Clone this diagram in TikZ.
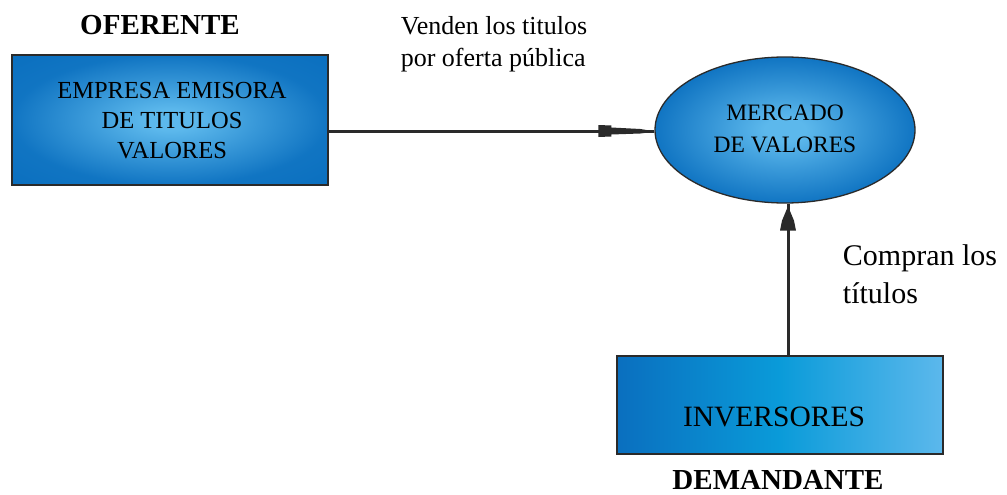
\documentclass[tikz,border=0pt]{standalone}
\usepackage{fontspec}
\setmainfont{Liberation Serif}
\usetikzlibrary{arrows.meta,calc,shapes.geometric}
\definecolor{bdark}{HTML}{0A6FBF}
\definecolor{bmid}{HTML}{0A9BD9}
\definecolor{blight}{HTML}{5CB8EC}
\definecolor{edge}{HTML}{2A2A2A}
\pgfdeclareradialshading{softrad}{\pgfpoint{0bp}{0bp}}{%
  color(0bp)=(blight); color(4bp)=(blight); color(14bp)=(blight!55!bdark);
  color(25bp)=(bdark!92!blight); color(36bp)=(bdark); color(50bp)=(bdark)}
\begin{document}
\begin{tikzpicture}[x=1pt,y=-1pt,
  radbox/.style={draw=edge,line width=1.3pt,shading=softrad},
  linbox/.style={draw=edge,line width=1.3pt,left color=bdark,right color=blight,middle color=bmid},
  conn/.style={draw=edge,line width=3pt},
  tipfill/.style={fill=edge},
  lbl/.style={align=left,inner sep=0pt},
  role/.style={inner sep=0pt,font=\fontsize{29}{34}\selectfont\bfseries}]
\useasboundingbox (0,0) rectangle (1007,495);
% nodes
\node[radbox,minimum width=316pt,minimum height=130pt,inner sep=0pt] (emp) at (170,120) {};
\node[align=center,inner sep=0pt,font=\fontsize{24.5}{30}\selectfont] (empt) at (172,121) {EMPRESA EMISORA\\DE TITULOS\\VALORES};
\node[ellipse,radbox,minimum width=260pt,minimum height=146pt,inner sep=0pt] (mer) at (785,130) {};
\node[align=center,inner sep=0pt,font=\fontsize{23.5}{32}\selectfont] (mert) at (785,129) {MERCADO\\DE VALORES};
\node[linbox,minimum width=326pt,minimum height=98pt,inner sep=0pt] (inv) at (780,405) {};
\node[inner sep=0pt,font=\fontsize{29.5}{34}\selectfont] (invt) at (774,417) {INVERSORES};
% role labels
\node[role] (ofe) at (160,25) {OFERENTE};
\node[role] (dem) at (778,480) {DEMANDANTE};
% connector labels
\node[lbl,font=\fontsize{26}{32}\selectfont] (ven) at (494,44) {Venden los titulos\\por oferta pública};
\node[lbl,font=\fontsize{30}{38}\selectfont] (com) at (920,274) {Compran los\\títulos};
% connectors
\draw[conn] (emp.east |- 0,131) -- (mer.west |- 0,131);
\fill[tipfill] ($(mer.west |- 0,131)+(-56,-6)$) -- ++(13,0.5) -- ++(0,2) -- ++(29,1.5) -- ++(12,2) -- ++(0,1) -- ++(-12,1.5) -- ++(-29,1) -- ++(0,2) -- ++(-13,0.5) -- cycle;
\draw[conn] (inv.north -| 788,0) -- (mer.south -| 788,0);
\fill[tipfill] ($(mer.south -| 788,0)+(0,0)$) -- ++(1,5) -- ++(5,12) -- ++(2,10) -- ++(-16,0) -- ++(2,-10) -- ++(5,-12) -- cycle;
\end{tikzpicture}
\end{document}
